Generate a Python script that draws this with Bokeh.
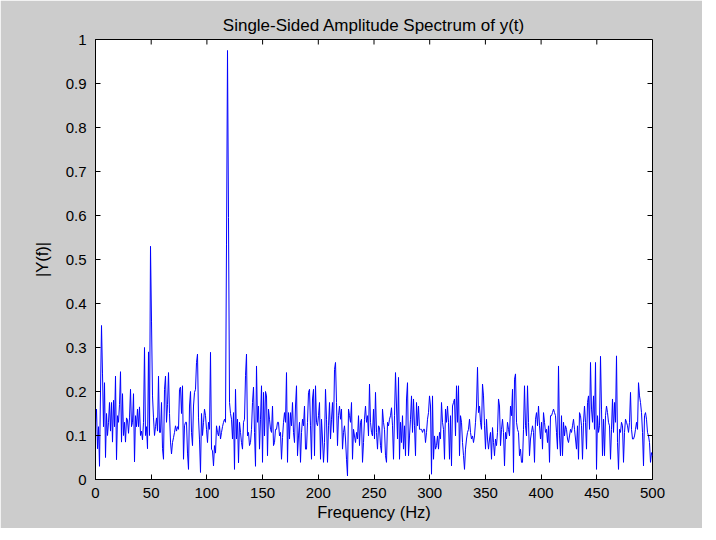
import numpy as np
from bokeh.plotting import figure
from bokeh.models import FixedTicker, CustomJSTickFormatter, Range1d
from bokeh.embed import file_html
from bokeh.resources import INLINE

# Amplitude |Y(f)|, left to right (0 .. 500 Hz)
amp_0_50 = [0.13, 0.16, 0.07, 0.12, 0.03, 0.20, 0.35, 0.24, 0.12, 0.22,
            0.05, 0.15, 0.10, 0.13, 0.175, 0.11, 0.175, 0.085, 0.18, 0.12,
            0.235, 0.045, 0.145, 0.13, 0.17, 0.245, 0.085, 0.195, 0.10, 0.13,
            0.085, 0.14, 0.135, 0.105, 0.14, 0.205, 0.12, 0.13, 0.195, 0.04,
            0.145, 0.12, 0.16, 0.12, 0.165, 0.10, 0.11, 0.09, 0.13, 0.30,
            0.10, 0.12]
amp_50_100 = [0.07, 0.29, 0.10, 0.53, 0.36, 0.19, 0.14, 0.10, 0.12, 0.14,
              0.11, 0.235, 0.107, 0.107, 0.175, 0.07, 0.046, 0.205, 0.235, 0.13,
              0.17, 0.243, 0.15, 0.085, 0.058, 0.084, 0.095, 0.107, 0.122, 0.11,
              0.12, 0.114, 0.205, 0.21, 0.15, 0.213, 0.046, 0.122, 0.13, 0.13,
              0.06, 0.023, 0.167, 0.20, 0.107, 0.077, 0.167, 0.198, 0.205, 0.266,
              0.285, 0.14, 0.09, 0.016, 0.15, 0.10, 0.13]
amp_100_150 = [0.16, 0.145, 0.114, 0.084, 0.13, 0.114, 0.289, 0.069, 0.065, 0.031,
               0.077, 0.06, 0.122, 0.107, 0.099, 0.122, 0.092, 0.107, 0.12, 0.13,
               0.137, 0.13, 0.535, 0.975, 0.595, 0.175, 0.15, 0.137, 0.092, 0.152,
               0.023, 0.205, 0.092, 0.137, 0.038, 0.13, 0.107, 0.084, 0.069, 0.13,
               0.137, 0.236, 0.285, 0.099, 0.107, 0.077, 0.084, 0.114, 0.175, 0.21,
               0.107, 0.03, 0.258, 0.13, 0.167, 0.069, 0.137]
amp_150_200 = [0.213, 0.039, 0.198, 0.099, 0.20, 0.19, 0.054, 0.16, 0.137, 0.114,
               0.107, 0.167, 0.077, 0.084, 0.114, 0.114, 0.13, 0.13, 0.099, 0.107,
               0.046, 0.095, 0.13, 0.152, 0.13, 0.243, 0.039, 0.152, 0.092, 0.152,
               0.122, 0.175, 0.107, 0.084, 0.167, 0.213, 0.054, 0.099, 0.13, 0.039,
               0.107, 0.137, 0.122, 0.167, 0.069, 0.069, 0.13, 0.198, 0.205, 0.122,
               0.046, 0.183, 0.205, 0.054, 0.213, 0.13, 0.122]
amp_200_250 = [0.145, 0.175, 0.046, 0.137, 0.092, 0.039, 0.084, 0.205, 0.137, 0.039,
               0.122, 0.175, 0.092, 0.137, 0.175, 0.107, 0.25, 0.266, 0.175, 0.077,
               0.145, 0.167, 0.137, 0.16, 0.069, 0.107, 0.122, 0.092, 0.046, 0.008,
               0.16, 0.145, 0.13, 0.175, 0.046, 0.114, 0.099, 0.084, 0.107, 0.092,
               0.145, 0.077, 0.13, 0.137, 0.039, 0.084, 0.137, 0.167, 0.13, 0.145,
               0.099, 0.217, 0.13, 0.107, 0.099, 0.16, 0.092]
amp_250_300 = [0.198, 0.107, 0.069, 0.122, 0.118, 0.077, 0.061, 0.16, 0.13, 0.114,
               0.054, 0.039, 0.13, 0.122, 0.137, 0.145, 0.163, 0.122, 0.046, 0.145,
               0.243, 0.167, 0.092, 0.232, 0.046, 0.13, 0.084, 0.145, 0.069, 0.122,
               0.054, 0.183, 0.22, 0.054, 0.099, 0.137, 0.19, 0.107, 0.183, 0.122,
               0.054, 0.175, 0.122, 0.167, 0.114, 0.114, 0.114, 0.107, 0.114, 0.114,
               0.084, 0.107, 0.137, 0.152, 0.19, 0.167, 0.012]
amp_300_350 = [0.19, 0.046, 0.099, 0.069, 0.077, 0.099, 0.069, 0.107, 0.092, 0.175,
               0.13, 0.114, 0.046, 0.16, 0.13, 0.167, 0.13, 0.046, 0.145, 0.031,
               0.167, 0.175, 0.183, 0.099, 0.213, 0.13, 0.213, 0.054, 0.145, 0.13,
               0.084, 0.054, 0.023, 0.069, 0.092, 0.107, 0.114, 0.137, 0.107, 0.092,
               0.099, 0.084, 0.099, 0.13, 0.167, 0.255, 0.152, 0.167, 0.13, 0.114,
               0.217, 0.19, 0.122, 0.069, 0.137, 0.092, 0.069]
amp_350_400 = [0.092, 0.107, 0.046, 0.118, 0.084, 0.054, 0.092, 0.077, 0.107, 0.183,
               0.167, 0.077, 0.114, 0.137, 0.107, 0.031, 0.107, 0.092, 0.13, 0.114,
               0.099, 0.167, 0.145, 0.205, 0.016, 0.228, 0.24, 0.13, 0.114, 0.107,
               0.054, 0.069, 0.039, 0.039, 0.114, 0.213, 0.122, 0.099, 0.213, 0.13,
               0.054, 0.092, 0.107, 0.122, 0.107, 0.039, 0.137, 0.152, 0.122, 0.167,
               0.122, 0.092, 0.13, 0.069, 0.152, 0.13, 0.107]
amp_400_450 = [0.114, 0.084, 0.122, 0.039, 0.145, 0.145, 0.152, 0.16, 0.152, 0.145,
               0.107, 0.069, 0.258, 0.099, 0.054, 0.145, 0.054, 0.13, 0.099, 0.122,
               0.114, 0.092, 0.084, 0.099, 0.114, 0.107, 0.122, 0.137, 0.114, 0.092,
               0.069, 0.122, 0.046, 0.152, 0.145, 0.122, 0.046, 0.13, 0.167, 0.13,
               0.069, 0.175, 0.19, 0.114, 0.266, 0.16, 0.13, 0.19, 0.114, 0.266,
               0.023, 0.145, 0.107, 0.122]
amp_450_500 = [0.28, 0.16, 0.054, 0.137, 0.054, 0.145, 0.167, 0.152, 0.13, 0.122,
               0.046, 0.114, 0.183, 0.107, 0.175, 0.13, 0.281, 0.084, 0.023, 0.114,
               0.107, 0.13, 0.122, 0.039, 0.107, 0.137, 0.13, 0.122, 0.107, 0.13,
               0.198, 0.114, 0.092, 0.092, 0.099, 0.114, 0.13, 0.114, 0.22, 0.19,
               0.175, 0.152, 0.107, 0.031, 0.145, 0.152, 0.137, 0.107, 0.099, 0.084,
               0.039, 0.061, 0.054]

amplitude = (amp_0_50 + amp_50_100 + amp_100_150 + amp_150_200 + amp_200_250
             + amp_250_300 + amp_300_350 + amp_350_400 + amp_400_450 + amp_450_500)
freq = np.linspace(0, 500, len(amplitude))

x_ticks = [0, 50, 100, 150, 200, 250, 300, 350, 400, 450, 500]
y_ticks = [0, 0.1, 0.2, 0.3, 0.4, 0.5, 0.6, 0.7, 0.8, 0.9, 1]

FONT = "Liberation Sans"

p = figure(width=702, height=528, output_backend="svg", toolbar_location=None,
           x_range=Range1d(0, 500), y_range=Range1d(0, 1),
           min_border_left=95, min_border_right=50, min_border_top=39,
           min_border_bottom=49,
           title="Single-Sided Amplitude Spectrum of y(t)")
p.border_fill_color = "#cccccc"
p.background_fill_color = "white"
p.outline_line_color = "black"
p.outline_line_width = 1
p.grid.visible = False

p.title.text_font = FONT
p.title.text_font_size = "17px"
p.title.text_font_style = "normal"
p.title.text_color = "black"
p.title.align = "center"
p.title.standoff = 9

p.line(freq, amplitude, line_color="#0000ff", line_width=1)

# inward ticks on the top and right edges of the box
x_top = x_ticks
y_top = [y_ticks[-1]] * len(x_ticks)
p.ray(x=x_top, y=y_top, length=5, length_units="screen", angle=-np.pi / 2,
      line_color="black", line_width=1)
x_right = [x_ticks[-1]] * len(y_ticks)
p.ray(x=x_right, y=y_ticks, length=5, length_units="screen", angle=np.pi,
      line_color="black", line_width=1)

yfmt = CustomJSTickFormatter(code="return String(Number(tick.toFixed(2)));")


def style(ax, ticks):
    ax.ticker = FixedTicker(ticks=ticks)
    ax.major_tick_in = 5
    ax.major_tick_out = 0
    ax.minor_tick_in = 0
    ax.minor_tick_out = 0
    ax.axis_line_color = "black"
    ax.major_tick_line_color = "black"
    ax.major_label_text_font = FONT
    ax.major_label_text_font_size = "15px"
    ax.major_label_text_color = "black"
    ax.axis_label_text_font = FONT
    ax.axis_label_text_font_size = "16.5px"
    ax.axis_label_text_font_style = "normal"
    ax.axis_label_text_color = "black"


xa = p.xaxis[0]
style(xa, x_ticks)
xa.axis_label = "Frequency (Hz)"
xa.major_label_standoff = 8
xa.axis_label_standoff = 2

ya = p.yaxis[0]
style(ya, y_ticks)
ya.formatter = yfmt
ya.axis_label = "|Y(f)|"
ya.major_label_standoff = 9
ya.axis_label_standoff = 12

open("out.html", "w").write(file_html(p, INLINE))
